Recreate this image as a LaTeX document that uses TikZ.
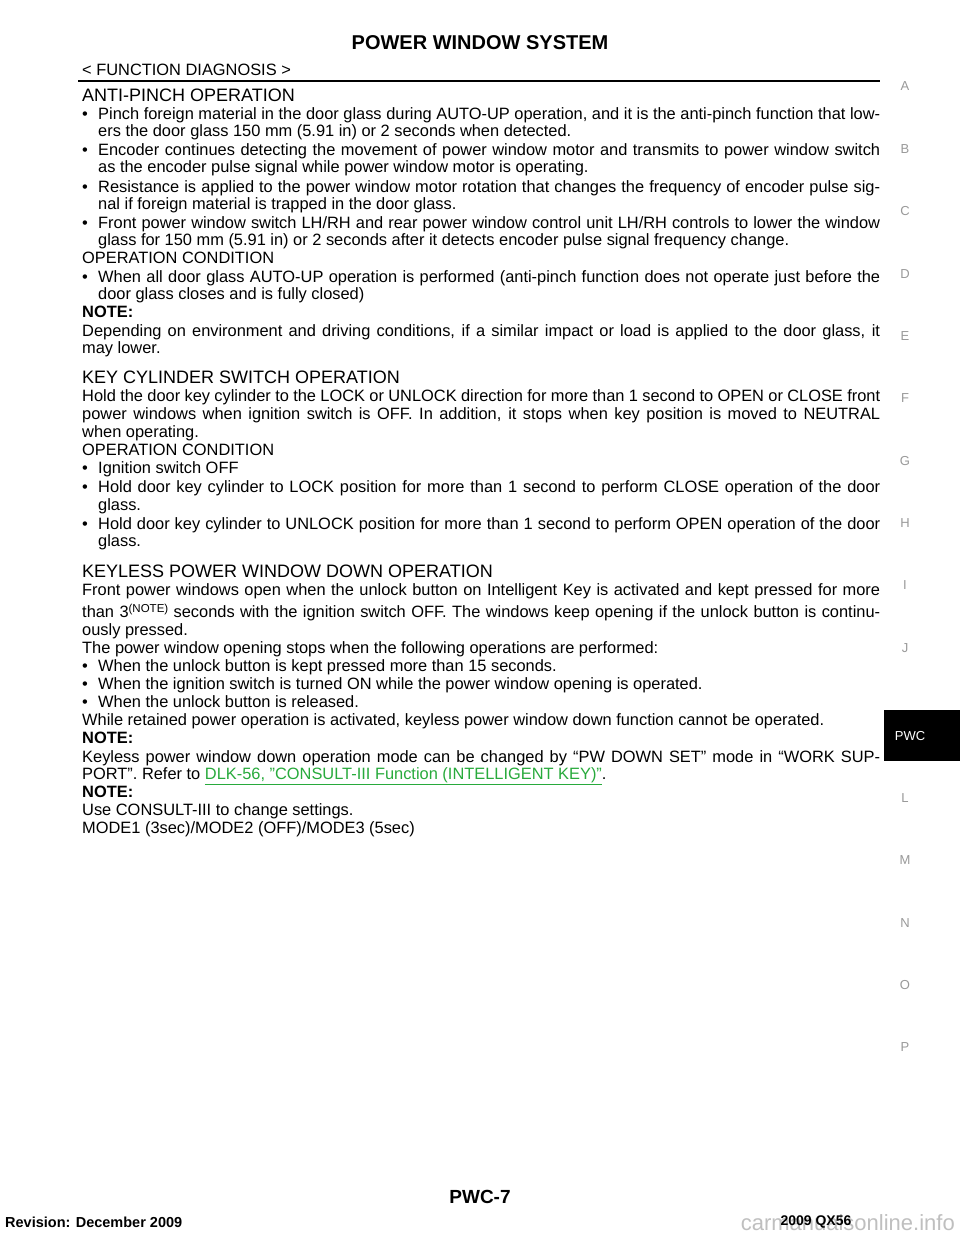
\documentclass[tikz,border=0pt]{standalone}
\usepackage{fontspec}
\setmainfont{Liberation Sans}
\begin{document}
\begin{tikzpicture}[x=1pt,y=-1pt,
  body/.style={anchor=west,inner sep=0pt,font=\fontsize{16.4}{18}\selectfont},
  head/.style={anchor=west,inner sep=0pt,font=\fontsize{18}{20}\selectfont},
  side/.style={inner sep=0pt,text=gray!80,font=\fontsize{13}{14}\selectfont}]
\useasboundingbox (0,0) rectangle (960,1242);
\fill[white] (0,0) rectangle (960,1242);
\newcommand{\FL}[3]{\node[body] (#1) at (#2) {\makebox[798pt][s]{#3}};}
\newcommand{\FB}[3]{\node[body] (#1) at (#2) {\makebox[798pt][s]{\makebox[16pt][l]{•}#3}};}
\newcommand{\LL}[3]{\node[body] (#1) at (#2) {\strut #3};}
\node[inner sep=0pt,font=\bfseries\fontsize{20}{22}\selectfont] (title) at (480,43) {POWER WINDOW SYSTEM};
\node[body] (sub) at (82,70) {< FUNCTION DIAGNOSIS >};
\draw[line width=2pt] (78,81) -- (880,81);
\node[head] (h1) at (82,95) {ANTI-PINCH OPERATION};
\FB{l1}{82,115}{Pinch foreign material in the door glass during AUTO-UP operation, and it is the anti-pinch function that low-}
\LL{l2}{98,133}{ers the door glass 150 mm (5.91 in) or 2 seconds when detected.}
\FB{l3}{82,151}{Encoder continues detecting the movement of power window motor and transmits to power window switch}
\LL{l4}{98,169}{as the encoder pulse signal while power window motor is operating.}
\FB{l5}{82,188}{Resistance is applied to the power window motor rotation that changes the frequency of encoder pulse sig-}
\LL{l6}{98,206}{nal if foreign material is trapped in the door glass.}
\FB{l7}{82,224}{Front power window switch LH/RH and rear power window control unit LH/RH controls to lower the window}
\LL{l8}{98,242}{glass for 150 mm (5.91 in) or 2 seconds after it detects encoder pulse signal frequency change.}
\LL{l9}{82,260}{OPERATION CONDITION}
\FB{l10}{82,278}{When all door glass AUTO-UP operation is performed (anti-pinch function does not operate just before the}
\LL{l11}{98,296}{door glass closes and is fully closed)}
\LL{l12}{82,314}{\bfseries NOTE:}
\FL{l13}{82,332}{Depending on environment and driving conditions, if a similar impact or load is applied to the door glass, it}
\LL{l14}{82,350}{may lower.}
\node[head] (h2) at (82,377) {KEY CYLINDER SWITCH OPERATION};
\FL{k1}{82,397}{Hold the door key cylinder to the LOCK or UNLOCK direction for more than 1 second to OPEN or CLOSE front}
\FL{k2}{82,415}{power windows when ignition switch is OFF. In addition, it stops when key position is moved to NEUTRAL}
\LL{k3}{82,434}{when operating.}
\LL{k4}{82,452}{OPERATION CONDITION}
\LL{k5}{82,470}{\makebox[16pt][l]{•}Ignition switch OFF}
\FB{k6}{82,488}{Hold door key cylinder to LOCK position for more than 1 second to perform CLOSE operation of the door}
\LL{k7}{98,507}{glass.}
\FB{k8}{82,525}{Hold door key cylinder to UNLOCK position for more than 1 second to perform OPEN operation of the door}
\LL{k9}{98,543}{glass.}
\node[head] (h3) at (82,571) {KEYLESS POWER WINDOW DOWN OPERATION};
\FL{m1}{82,591}{Front power windows open when the unlock button on Intelligent Key is activated and kept pressed for more}
\FL{m2}{82,613}{than 3\raisebox{5pt}{\fontsize{11.5}{12}\selectfont (NOTE)} seconds with the ignition switch OFF. The windows keep opening if the unlock button is continu-}
\LL{m3}{82,632}{ously pressed.}
\LL{m4}{82,650}{The power window opening stops when the following operations are performed:}
\LL{m5}{82,668}{\makebox[16pt][l]{•}When the unlock button is kept pressed more than 15 seconds.}
\LL{m6}{82,686}{\makebox[16pt][l]{•}When the ignition switch is turned ON while the power window opening is operated.}
\LL{m7}{82,704}{\makebox[16pt][l]{•}When the unlock button is released.}
\LL{m8}{82,722}{While retained power operation is activated, keyless power window down function cannot be operated.}
\LL{m9}{82,740}{\bfseries NOTE:}
\FL{m10}{82,758}{Keyless power window down operation mode can be changed by “PW DOWN SET” mode in “WORK SUP-}
\definecolor{lnk}{RGB}{40,170,60}
\LL{m11}{82,776}{PORT”. Refer to \textcolor{lnk}{\underline{DLK-56, "CONSULT-III Function (INTELLIGENT KEY)"}}.}
\LL{m12}{82,794}{\bfseries NOTE:}
\LL{m13}{82,812}{Use CONSULT-III to change settings.}
\LL{m14}{82,830}{MODE1 (3sec)/MODE2 (OFF)/MODE3 (5sec)}
% side tabs
\node[side] (sA) at (905,86) {A};
\node[side] (sB) at (905,149) {B};
\node[side] (sC) at (905,211) {C};
\node[side] (sD) at (905,274) {D};
\node[side] (sE) at (905,336) {E};
\node[side] (sF) at (905,398) {F};
\node[side] (sG) at (905,461) {G};
\node[side] (sH) at (905,523) {H};
\node[side] (sI) at (905,585) {I};
\node[side] (sJ) at (905,648) {J};
\fill[black] (884,710) rectangle (960,761);
\node[side,text=white] (sP) at (910,736) {PWC};
\node[side] (sL) at (905,798) {L};
\node[side] (sM) at (905,860) {M};
\node[side] (sN) at (905,923) {N};
\node[side] (sO) at (905,985) {O};
\node[side] (sPP) at (905,1047) {P};
% footer
\node[inner sep=0pt,font=\bfseries\fontsize{19}{21}\selectfont] (pg) at (480,1197) {PWC-7};
\node[anchor=west,inner sep=0pt,font=\bfseries\fontsize{14.5}{15}\selectfont] (rev) at (5,1222) {Revision: December 2009};
\node[inner sep=0pt,text=gray!50,font=\fontsize{22}{24}\selectfont,anchor=east] (wm) at (955,1223) {carmanualsonline.info};
\node[inner sep=0pt,font=\bfseries\fontsize{14}{15}\selectfont] (yr) at (816,1222) {2009 QX56};
\end{tikzpicture}
\end{document}
